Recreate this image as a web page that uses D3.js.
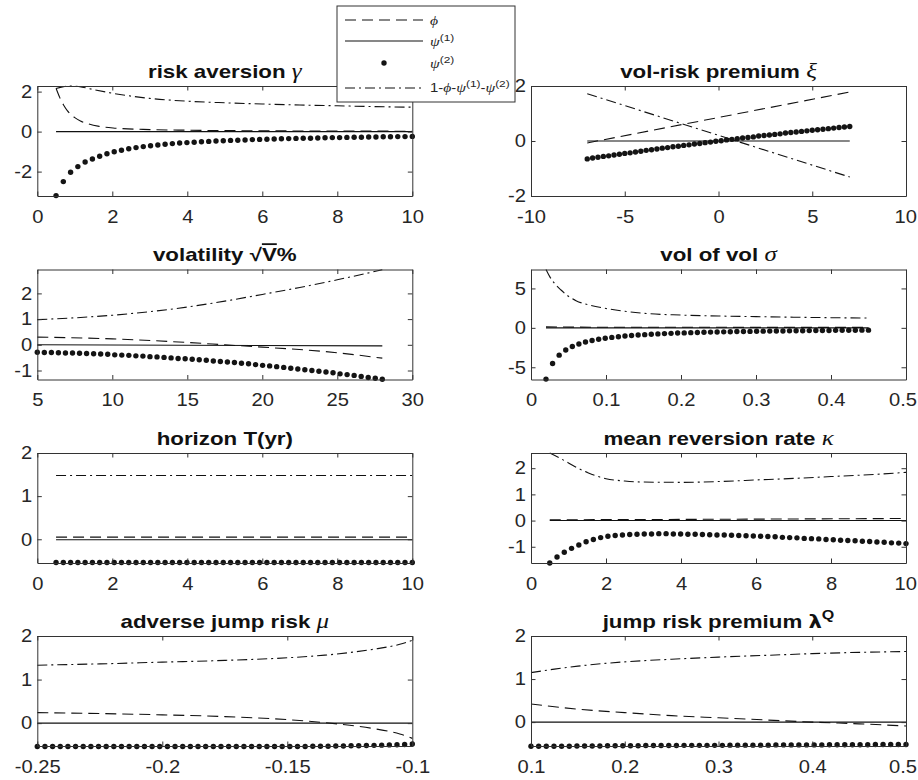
<!DOCTYPE html>
<html>
<head>
<meta charset="utf-8">
<script src="https://cdn.jsdelivr.net/npm/d3@7"></script>
<style>
  body { margin: 0; background: #fff; }
  svg { display: block; }
</style>
</head>
<body>
<div id="chart"></div>
<script>
// sampling grid of the swept parameter (50 evenly spaced values)
function grid(a, b, n) { return d3.range(n).map(i => a + (b - a) * i / (n - 1)); }

// ---- risk aversion gamma
const riskX = grid(0.5, 10, 50);
const riskPsi2 = [-3.20,-2.50,-2.03,-1.75,-1.52,-1.37,-1.23,-1.11,-1.01,-0.93,
  -0.86,-0.80,-0.75,-0.71,-0.67,-0.63,-0.60,-0.57,-0.55,-0.53,
  -0.51,-0.49,-0.47,-0.46,-0.44,-0.43,-0.42,-0.40,-0.39,-0.38,
  -0.37,-0.36,-0.35,-0.34,-0.33,-0.33,-0.32,-0.31,-0.30,-0.30,
  -0.29,-0.28,-0.28,-0.27,-0.27,-0.26,-0.26,-0.25,-0.25,-0.24];
const riskPhi = [[0.5,2.17],[0.6,1.7],[0.7,1.33],[0.8,1.05],[0.9,0.85],[1.0,0.7],[1.15,0.53],[1.35,0.39],[1.65,0.26],[2.1,0.17],[3,0.1],[4,0.07],[6,0.04],[10,0.02]];
const riskPsi1 = [[0.5,0],[10,0]];
const riskRest = [[0.5,2.15],[0.7,2.25],[0.9,2.28],[1.2,2.22],[1.5,2.1],[2,1.92],[3,1.66],[4,1.52],[5,1.44],[6,1.38],[7,1.33],[8,1.29],[9,1.25],[10,1.22]];

// ---- vol-risk premium xi
const vrpX = grid(-7, 7, 50);
const vrpPsi2 = [-0.65,-0.62,-0.59,-0.56,-0.54,-0.51,-0.48,-0.45,-0.43,-0.40,
  -0.37,-0.34,-0.32,-0.29,-0.26,-0.24,-0.21,-0.19,-0.16,-0.14,
  -0.11,-0.09,-0.06,-0.04,-0.01,0.01,0.04,0.06,0.08,0.11,
  0.13,0.15,0.18,0.20,0.22,0.24,0.26,0.29,0.31,0.33,
  0.35,0.37,0.39,0.41,0.43,0.45,0.47,0.49,0.51,0.53];
const vrpPhi = [[-7,-0.07],[7,1.78]];
const vrpPsi1 = [[-7,0],[7,0]];
const vrpRest = [[-7,1.72],[7,-1.31]];

// ---- volatility sqrt(V) %
const volX = grid(5, 28, 50);
const volPsi2 = [-0.29,-0.30,-0.30,-0.31,-0.32,-0.32,-0.33,-0.34,-0.35,-0.36,
  -0.37,-0.39,-0.40,-0.41,-0.43,-0.44,-0.46,-0.47,-0.49,-0.51,
  -0.53,-0.54,-0.56,-0.58,-0.60,-0.63,-0.65,-0.67,-0.69,-0.72,
  -0.74,-0.77,-0.80,-0.82,-0.85,-0.88,-0.91,-0.94,-0.97,-1.00,
  -1.03,-1.06,-1.09,-1.13,-1.16,-1.19,-1.23,-1.27,-1.30,-1.34];
const volPhi = [[5,0.3],[10,0.23],[15,0.09],[17.5,0],[20,-0.09],[25,-0.31],[28,-0.52]];
const volPsi1 = [[5,0],[28,-0.04]];
const volRest = [[5,0.98],[7.5,1.05],[10,1.15],[12.5,1.29],[15,1.47],[17.5,1.7],[20,1.96],[22.5,2.23],[25,2.53],[28,2.92]];

// ---- vol of vol sigma
const vovX = grid(0.02, 0.45, 50);
const vovPsi2 = [-6.50,-4.52,-3.46,-2.81,-2.36,-2.04,-1.79,-1.60,-1.44,-1.31,
  -1.21,-1.12,-1.04,-0.97,-0.91,-0.86,-0.81,-0.77,-0.73,-0.70,
  -0.66,-0.64,-0.61,-0.59,-0.56,-0.54,-0.52,-0.51,-0.49,-0.47,
  -0.46,-0.45,-0.43,-0.42,-0.41,-0.40,-0.39,-0.38,-0.37,-0.36,
  -0.35,-0.34,-0.33,-0.33,-0.32,-0.31,-0.31,-0.30,-0.29,-0.29];
const vovPhi = [[0.02,0.12],[0.1,0.08],[0.45,0.06]];
const vovPsi1 = [[0.02,0],[0.45,0]];
const vovRest = [[0.02,7.4],[0.025,6.5],[0.03,5.8],[0.04,4.8],[0.05,4.0],[0.06,3.45],[0.08,2.85],[0.1,2.46],[0.15,1.85],[0.2,1.62],[0.25,1.5],[0.3,1.42],[0.35,1.35],[0.4,1.29],[0.45,1.24]];

// ---- horizon T
const horX = grid(0.5, 10, 50);
const horPsi2 = [-0.54,-0.54,-0.54,-0.54,-0.54,-0.54,-0.54,-0.54,-0.54,-0.54,
  -0.54,-0.54,-0.54,-0.54,-0.54,-0.54,-0.54,-0.54,-0.54,-0.54,
  -0.54,-0.54,-0.54,-0.54,-0.54,-0.54,-0.54,-0.54,-0.54,-0.54,
  -0.54,-0.54,-0.54,-0.54,-0.54,-0.54,-0.54,-0.54,-0.54,-0.54,
  -0.54,-0.54,-0.54,-0.54,-0.54,-0.54,-0.54,-0.54,-0.54,-0.54];
const horPhi = [[0.5,0.05],[10,0.05]];
const horPsi1 = [[0.5,-0.01],[10,-0.01]];
const horRest = [[0.5,1.48],[10,1.48]];

// ---- mean reversion rate kappa
const kapX = grid(0.5, 10, 50);
const kapPsi2 = [-1.62,-1.39,-1.21,-1.06,-0.93,-0.81,-0.72,-0.65,-0.60,-0.57,
  -0.55,-0.53,-0.52,-0.51,-0.51,-0.50,-0.50,-0.51,-0.51,-0.52,
  -0.52,-0.53,-0.54,-0.55,-0.55,-0.56,-0.57,-0.58,-0.59,-0.60,
  -0.61,-0.62,-0.64,-0.65,-0.66,-0.68,-0.69,-0.70,-0.72,-0.73,
  -0.75,-0.76,-0.77,-0.79,-0.80,-0.82,-0.83,-0.85,-0.86,-0.88];
const kapPhi = [[0.5,0.03],[5,0.05],[10,0.08]];
const kapPsi1 = [[0.5,0],[10,0]];
const kapRest = [[0.5,2.58],[0.75,2.4],[1,2.2],[1.25,2.0],[1.5,1.84],[1.75,1.7],[2,1.6],[2.5,1.51],[3,1.47],[4,1.46],[5,1.49],[6,1.55],[7,1.61],[8,1.68],[9,1.75],[10,1.84]];

// ---- adverse jump risk mu
const muX = grid(-0.25, -0.1, 50);
const muPsi2 = [-0.535,-0.535,-0.535,-0.535,-0.535,-0.535,-0.535,-0.535,-0.535,-0.535,
  -0.535,-0.535,-0.535,-0.535,-0.535,-0.535,-0.535,-0.535,-0.535,-0.535,
  -0.535,-0.535,-0.535,-0.535,-0.535,-0.535,-0.535,-0.535,-0.535,-0.535,
  -0.535,-0.535,-0.535,-0.535,-0.535,-0.535,-0.53,-0.53,-0.53,-0.525,
  -0.525,-0.52,-0.52,-0.515,-0.51,-0.505,-0.50,-0.495,-0.49,-0.48];
const muPhi = [[-0.25,0.24],[-0.225,0.22],[-0.2,0.19],[-0.175,0.15],[-0.15,0.08],[-0.135,0.01],[-0.125,-0.05],[-0.115,-0.13],[-0.105,-0.25],[-0.1,-0.35]];
const muPsi1 = [[-0.25,0],[-0.1,0]];
const muRest = [[-0.25,1.33],[-0.225,1.36],[-0.2,1.4],[-0.175,1.44],[-0.15,1.5],[-0.135,1.56],[-0.125,1.62],[-0.115,1.7],[-0.105,1.81],[-0.1,1.9]];

// ---- jump risk premium lambda^Q
const lamX = grid(0.1, 0.5, 50);
const lamPsi2 = [-0.56,-0.56,-0.56,-0.56,-0.56,-0.56,-0.555,-0.555,-0.555,-0.555,
  -0.55,-0.55,-0.55,-0.55,-0.55,-0.545,-0.545,-0.545,-0.545,-0.545,
  -0.54,-0.54,-0.54,-0.54,-0.54,-0.54,-0.535,-0.535,-0.535,-0.535,
  -0.535,-0.535,-0.53,-0.53,-0.53,-0.53,-0.53,-0.53,-0.53,-0.525,
  -0.525,-0.525,-0.525,-0.525,-0.525,-0.52,-0.52,-0.52,-0.52,-0.52];
const lamPhi = [[0.1,0.42],[0.15,0.3],[0.2,0.22],[0.25,0.15],[0.3,0.1],[0.35,0.05],[0.4,0.0],[0.45,-0.04],[0.5,-0.09]];
const lamPsi1 = [[0.1,0],[0.5,0]];
const lamRest = [[0.1,1.15],[0.125,1.23],[0.15,1.3],[0.2,1.4],[0.25,1.46],[0.3,1.51],[0.35,1.55],[0.4,1.59],[0.45,1.62],[0.5,1.64]];

// titles: [text, style]
const titles = [
  [["risk aversion ", "b"], ["γ", "g"]],
  [["vol-risk premium ", "b"], ["ξ", "g"]],
  [["volatility ", "b"], ["√", "b"], ["V", "ov"], ["%", "b"]],
  [["vol of vol ", "b"], ["σ", "g"]],
  [["horizon T(yr)", "b"]],
  [["mean reversion rate ", "b"], ["κ", "g"]],
  [["adverse jump risk ", "b"], ["μ", "g"]],
  [["jump risk premium ", "b"], ["λ", "gb"], ["Q", "sup"]]
];
const legendLabels = [
  [["ϕ", "gi"]],
  [["ψ", "gi"], ["(1)", "s"]],
  [["ψ", "gi"], ["(2)", "s"]],
  [["1-", "t"], ["ϕ", "gi"], ["-", "t"], ["ψ", "gi"], ["(1)", "s"], ["-", "t"], ["ψ", "gi"], ["(2)", "s"]]
];

const panels = [
  {xd: [0, 10], yd: [-3.22, 2.28], xt: [0,2,4,6,8,10], yt: [-2,0,2], px: riskX, p2: riskPsi2, phi: riskPhi, p1: riskPsi1, rest: riskRest},
  {xd: [-10, 10], yd: [-2, 2], xt: [-10,-5,0,5,10], yt: [-2,0,2], px: vrpX, p2: vrpPsi2, phi: vrpPhi, p1: vrpPsi1, rest: vrpRest},
  {xd: [5, 30], yd: [-1.35, 2.93], xt: [5,10,15,20,25,30], yt: [-1,0,1,2], px: volX, p2: volPsi2, phi: volPhi, p1: volPsi1, rest: volRest},
  {xd: [0, 0.5], yd: [-6.55, 7.4], xt: [0,0.1,0.2,0.3,0.4,0.5], yt: [-5,0,5], px: vovX, p2: vovPsi2, phi: vovPhi, p1: vovPsi1, rest: vovRest},
  {xd: [0, 10], yd: [-0.55, 2], xt: [0,2,4,6,8,10], yt: [0,1,2], px: horX, p2: horPsi2, phi: horPhi, p1: horPsi1, rest: horRest},
  {xd: [0, 10], yd: [-1.62, 2.58], xt: [0,2,4,6,8,10], yt: [-1,0,1,2], px: kapX, p2: kapPsi2, phi: kapPhi, p1: kapPsi1, rest: kapRest},
  {xd: [-0.25, -0.1], yd: [-0.525, 2], xt: [-0.25,-0.2,-0.15,-0.1], yt: [0,1,2], px: muX, p2: muPsi2, phi: muPhi, p1: muPsi1, rest: muRest},
  {xd: [0.1, 0.5], yd: [-0.555, 2], xt: [0.1,0.2,0.3,0.4,0.5], yt: [0,1,2], px: lamX, p2: lamPsi2, phi: lamPhi, p1: lamPsi1, rest: lamRest}
];

const SANS = '"Liberation Sans", Arial, Helvetica, sans-serif';
const SERIF = '"Liberation Serif", "Times New Roman", serif';
const S = 1.24;          // lettering in the original is stretched sideways
const ST = 1.12;         // same for the tick labels
const W = 375, H = 110;
const colX = [37.3, 531];
const rowY = [86, 269.5, 453, 636];
const AX = "#333";
const TXT = "#262626";

const styles = {
  b:   {family: SANS, weight: "bold", k: 1},
  g:   {family: SERIF, fstyle: "italic", k: 1.12},
  gb:  {family: '"DejaVu Sans", sans-serif', weight: "bold", k: 0.95},
  ov:  {family: SANS, weight: "bold", k: 1, deco: "overline"},
  sup: {family: SANS, weight: "bold", k: 0.72, rise: 0.45},
  t:   {family: SANS, k: 1},
  gi:  {family: SERIF, fstyle: "italic", k: 1.05},
  s:   {family: SANS, k: 0.8, rise: 0.38}
};

function rich(text, parts, size) {
  let prev = 0;
  parts.forEach(([str, key]) => {
    const st = styles[key];
    const rise = (st.rise || 0) * size;
    const ts = text.append("tspan").text(str)
      .attr("font-family", st.family)
      .attr("font-size", size * st.k)
      .attr("font-weight", st.weight || "normal")
      .attr("font-style", st.fstyle || "normal")
      .attr("dy", prev - rise);
    if (st.deco) ts.style("text-decoration", st.deco);
    prev = rise;
  });
}

const svg = d3.select("#chart").append("svg").attr("width", 918).attr("height", 780);
svg.append("rect").attr("width", 918).attr("height", 780).attr("fill", "#fff");

function styleAxis(sel, labels) {
  sel.attr("font-family", null).attr("font-size", null);
  sel.select(".domain").attr("stroke", AX).attr("stroke-width", 1);
  sel.selectAll(".tick line").attr("stroke", AX).attr("stroke-width", 1);
  if (labels) {
    sel.selectAll(".tick text")
      .attr("font-family", SANS).attr("font-size", 18).attr("fill", TXT)
      .attr("transform", `scale(${ST},1)`);
  }
}

panels.forEach((p, i) => {
  const left = colX[i % 2], top = rowY[Math.floor(i / 2)];
  const x = d3.scaleLinear().domain(p.xd).range([left, left + W]);
  const y = d3.scaleLinear().domain(p.yd).range([top + H, top]);
  const g = svg.append("g");

  const line = d3.line().x(d => x(d[0])).y(d => y(d[1])).curve(d3.curveMonotoneX);
  g.append("path").datum(p.rest).attr("d", line)
    .attr("fill", "none").attr("stroke", "#111").attr("stroke-width", 1.1)
    .attr("stroke-dasharray", "10,4,2,4");
  g.append("path").datum(p.phi).attr("d", line)
    .attr("fill", "none").attr("stroke", "#111").attr("stroke-width", 1.1)
    .attr("stroke-dasharray", "11,6");
  g.append("path").datum(p.p1).attr("d", line)
    .attr("fill", "none").attr("stroke", "#111").attr("stroke-width", 1.1);
  g.selectAll("circle").data(p.p2).join("circle")
    .attr("cx", (d, j) => x(p.px[j])).attr("cy", d => y(d))
    .attr("r", 2.7).attr("fill", "#141414");

  const fmt = d => String(d);
  g.append("g").attr("transform", `translate(0,${top + H})`)
    .call(d3.axisBottom(x).tickValues(p.xt).tickFormat(fmt).tickSizeInner(-4.5).tickSizeOuter(0).tickPadding(14))
    .call(s => styleAxis(s, true));
  g.append("g").attr("transform", `translate(0,${top})`)
    .call(d3.axisTop(x).tickValues(p.xt).tickFormat("").tickSizeInner(-4.5).tickSizeOuter(0))
    .call(s => styleAxis(s, false));
  g.append("g").attr("transform", `translate(${left},0)`)
    .call(d3.axisLeft(y).tickValues(p.yt).tickFormat(fmt).tickSizeInner(-4.5).tickSizeOuter(0).tickPadding(4.5))
    .call(s => styleAxis(s, true));
  g.append("g").attr("transform", `translate(${left + W},0)`)
    .call(d3.axisRight(y).tickValues(p.yt).tickFormat("").tickSizeInner(-4.5).tickSizeOuter(0))
    .call(s => styleAxis(s, false));

  const t = g.append("text")
    .attr("transform", `translate(${left + W / 2},${top - 8.5}) scale(${S},1)`)
    .attr("text-anchor", "middle").attr("fill", "#111");
  rich(t, titles[i], 18);
});

// keep the last tick labels of the right column inside the page
svg.selectAll(".tick text").each(function () {
  const r = this.getBoundingClientRect();
  if (r.right > 917) {
    d3.select(this).attr("transform", `translate(${917 - r.right},0) scale(${ST},1)`);
  }
});

// legend box, overlapping the top-left panel
const lg = svg.append("g");
lg.append("rect").attr("x", 337).attr("y", 6).attr("width", 178).attr("height", 96)
  .attr("fill", "#fff").attr("stroke", AX).attr("stroke-width", 1);
const rowsY = [20, 41, 63, 88];
const baseY = [24.5, 46, 67.5, 92];
const sample = d3.line();
lg.append("path").attr("d", sample([[345, rowsY[0]], [423, rowsY[0]]]))
  .attr("stroke", "#111").attr("stroke-width", 1.1).attr("stroke-dasharray", "11,6");
lg.append("path").attr("d", sample([[345, rowsY[1]], [423, rowsY[1]]]))
  .attr("stroke", "#111").attr("stroke-width", 1.1);
lg.append("circle").attr("cx", 384).attr("cy", rowsY[2]).attr("r", 2.7).attr("fill", "#141414");
lg.append("path").attr("d", sample([[345, rowsY[3]], [423, rowsY[3]]]))
  .attr("stroke", "#111").attr("stroke-width", 1.1).attr("stroke-dasharray", "10,4,2,4");
legendLabels.forEach((parts, k) => {
  const t = lg.append("text")
    .attr("transform", `translate(430,${baseY[k]}) scale(${S},1)`)
    .attr("fill", TXT);
  rich(t, parts, 12);
});
</script>
</body>
</html>
